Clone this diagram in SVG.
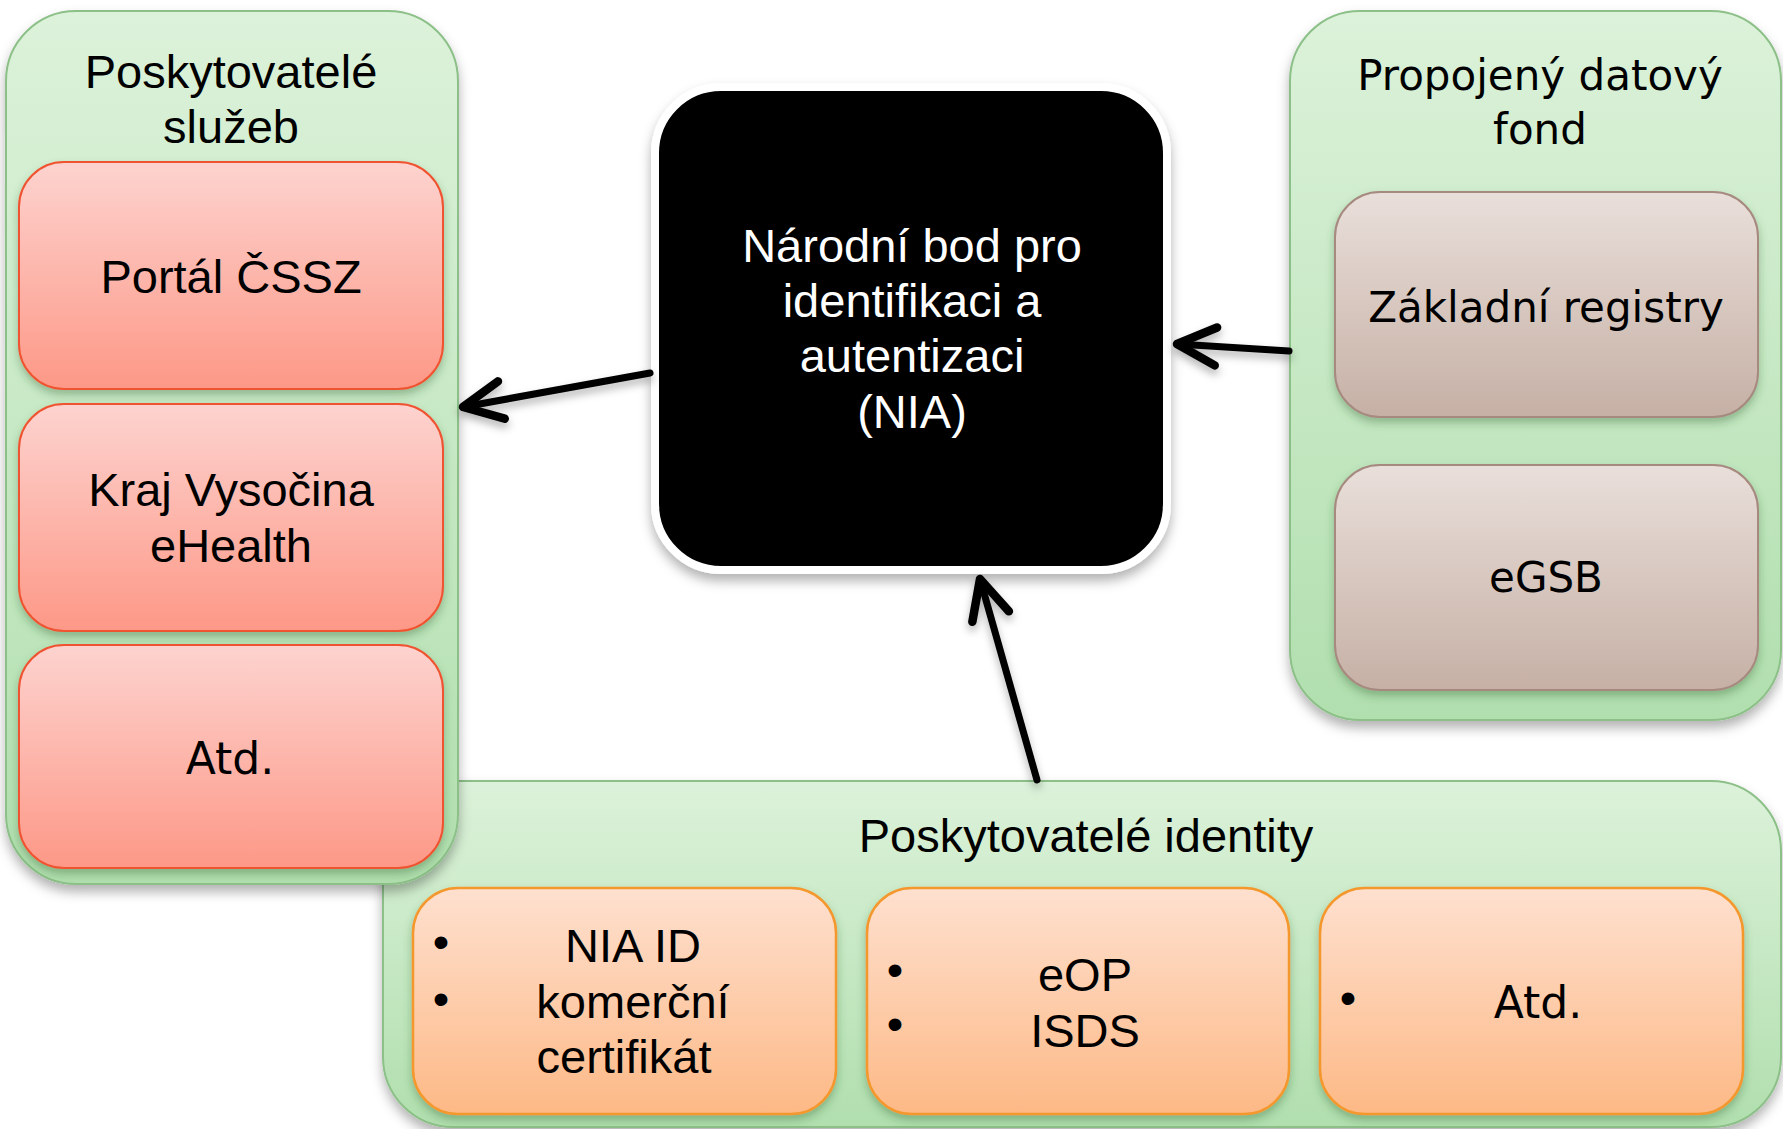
<svg xmlns="http://www.w3.org/2000/svg" width="1783" height="1129" viewBox="0 0 1783 1129">
<style>
.c{font-family:"Liberation Sans",Arial,sans-serif;font-size:47px;fill:#000;text-anchor:middle}
.w{font-family:"DejaVu Sans",Verdana,sans-serif;font-size:42px;fill:#000;text-anchor:middle}
.wt{fill:#fff}
.cont{fill:url(#gGreen);stroke:#8cc088;stroke-width:2;filter:url(#sh)}
.red{fill:url(#gRed);stroke:#ef5330;stroke-width:2;filter:url(#sh2)}
.org{fill:url(#gOrg);stroke:#f4982f;stroke-width:2.5;filter:url(#sh2)}
.brn{fill:url(#gBrn);stroke:#a68a80;stroke-width:2;filter:url(#sh2)}
.arr{fill:none;stroke:#000;stroke-width:7;stroke-linecap:round;marker-end:url(#chev)}
</style>
<defs>
<linearGradient id="gGreen" x1="0" y1="0" x2="0" y2="1"><stop offset="0" stop-color="#dcf2da"/><stop offset="1" stop-color="#b1dfae"/></linearGradient>
<linearGradient id="gRed" x1="0" y1="0" x2="0" y2="1"><stop offset="0" stop-color="#fdd3cf"/><stop offset="1" stop-color="#fd9887"/></linearGradient>
<linearGradient id="gOrg" x1="0" y1="0" x2="0" y2="1"><stop offset="0" stop-color="#fee0cf"/><stop offset="1" stop-color="#fdb986"/></linearGradient>
<linearGradient id="gBrn" x1="0" y1="0" x2="0" y2="1"><stop offset="0" stop-color="#e9dfda"/><stop offset="1" stop-color="#c6b0a5"/></linearGradient>
<filter id="sh" x="-10%" y="-10%" width="120%" height="125%"><feDropShadow dx="0" dy="7" stdDeviation="6" flood-color="#000" flood-opacity="0.3"/></filter>
<filter id="sh2" x="-10%" y="-10%" width="120%" height="125%"><feDropShadow dx="0" dy="5" stdDeviation="4" flood-color="#2a5a2a" flood-opacity="0.35"/></filter>
<filter id="sh3" x="-20%" y="-20%" width="140%" height="140%"><feDropShadow dx="0" dy="5" stdDeviation="4" flood-color="#000" flood-opacity="0.3"/></filter>
<marker id="chev" markerUnits="userSpaceOnUse" markerWidth="80" markerHeight="80" refX="0" refY="0" orient="auto" overflow="visible">
<path d="M -39 -19 L 0 0 L -39 19" fill="none" stroke="#000" stroke-width="8.5" stroke-linecap="round" stroke-linejoin="round"/>
</marker>
</defs>

<g id="identity-providers">
<rect class="cont" x="383" y="781" width="1398" height="346" rx="70"/>
<text class="c" x="1086" y="852">Poskytovatelé identity</text>
</g>
<g id="nia-id">
<rect class="org" x="413" y="888" width="423" height="226" rx="45"/>
<text class="c" x="441" y="958">•</text>
<text class="c" x="441" y="1015">•</text>
<text class="c" x="633" y="962">NIA ID</text>
<text class="c" x="633" y="1018">komerční</text>
<text class="c" x="624" y="1073">certifikát</text>
</g>
<g id="eop">
<rect class="org" x="867" y="888" width="422" height="226" rx="45"/>
<text class="c" x="895" y="986">•</text>
<text class="c" x="895" y="1040">•</text>
<text class="c" x="1085" y="991">eOP</text>
<text class="c" x="1085" y="1047">ISDS</text>
</g>
<g id="idp-atd">
<rect class="org" x="1320" y="888" width="423" height="226" rx="45"/>
<text class="c" x="1348" y="1014">•</text>
<text class="w" x="1538" y="1018" style="font-size:44px">Atd.</text>
</g>

<g id="data-fund">
<rect class="cont" x="1290" y="11" width="491" height="709" rx="70"/>
<text class="w" x="1540" y="90">Propojený datový</text>
<text class="w" x="1540" y="144">fond</text>
</g>
<g id="zakladni-registry">
<rect class="brn" x="1335" y="192" width="423" height="225" rx="45"/>
<text class="w" x="1546" y="322">Základní registry</text>
</g>
<g id="egsb">
<rect class="brn" x="1335" y="465" width="423" height="225" rx="45"/>
<text class="w" x="1546" y="592">eGSB</text>
</g>

<g id="service-providers">
<rect class="cont" x="6" y="11" width="452" height="873" rx="70"/>
<text class="c" x="231" y="88">Poskytovatelé</text>
<text class="c" x="231" y="143">služeb</text>
</g>
<g id="portal-cssz">
<rect class="red" x="19" y="162" width="424" height="227" rx="45"/>
<text class="c" x="231" y="293">Portál ČSSZ</text>
</g>
<g id="kraj-vysocina">
<rect class="red" x="19" y="404" width="424" height="227" rx="45"/>
<text class="c" x="231" y="506">Kraj Vysočina</text>
<text class="c" x="231" y="562">eHealth</text>
</g>
<g id="sp-atd">
<rect class="red" x="19" y="645" width="424" height="223" rx="45"/>
<text class="w" x="230" y="774" style="font-size:44px">Atd.</text>
</g>

<g id="nia">
<rect x="655" y="87" width="512" height="483" rx="66" fill="#000" stroke="#fff" stroke-width="8" filter="url(#sh)"/>
<text class="c wt" x="912" y="262">Národní bod pro</text>
<text class="c wt" x="912" y="317">identifikaci a</text>
<text class="c wt" x="912" y="372">autentizaci</text>
<text class="c wt" x="912" y="428">(NIA)</text>
</g>

<g id="connectors" filter="url(#sh3)">
<path class="arr" d="M 650 373 L 463 407"/>
<path class="arr" d="M 1289 351 L 1177 344"/>
<path class="arr" d="M 1037 780 L 980 579"/>
</g>
</svg>
